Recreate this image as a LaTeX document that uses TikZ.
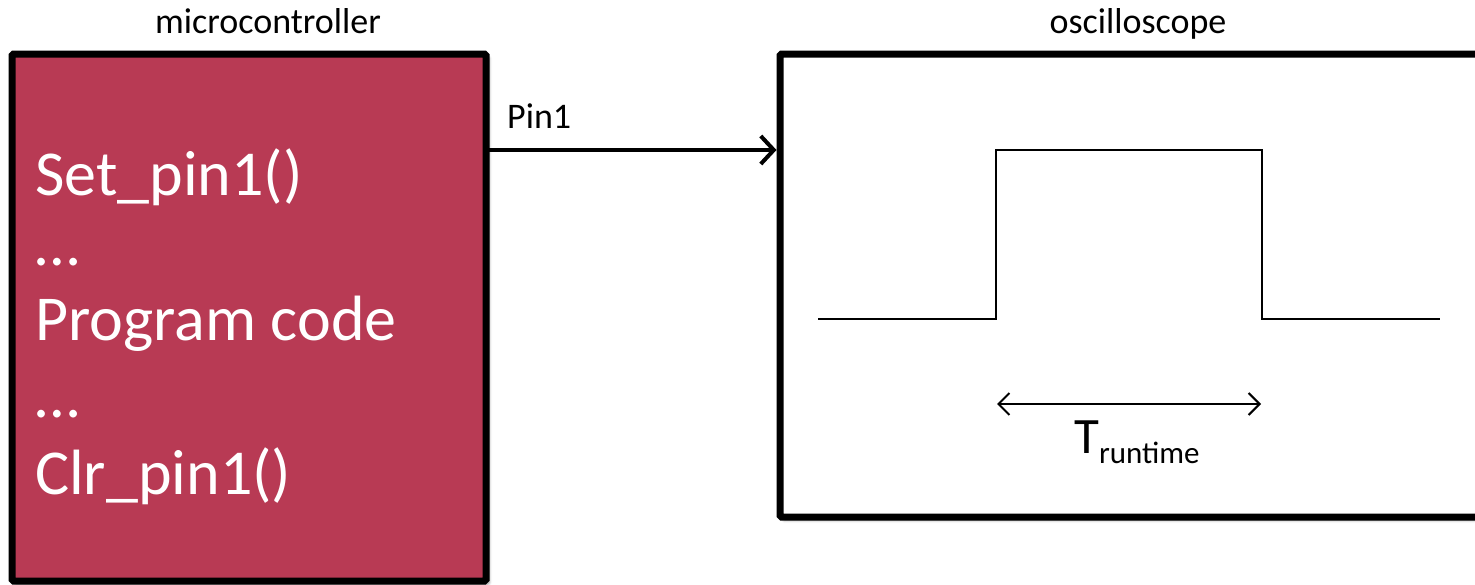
\documentclass[tikz,border=0pt]{standalone}
\usepackage{fontspec}
\setmainfont{Carlito}
\usetikzlibrary{arrows.meta,shadows.blur}
\definecolor{mcred}{RGB}{184,58,84}
\tikzset{
  boxframe/.style={draw=black, line width=7pt, inner sep=0pt, outer sep=0pt, rounded corners=1.5pt,
    blur shadow={shadow xshift=3pt, shadow yshift=-3pt, shadow blur radius=3pt, shadow opacity=45}},
  bigtxt/.style={anchor=base west, inner sep=0pt, text=white, font=\fontsize{64}{64}\selectfont},
  smalltxt/.style={inner sep=0pt, font=\fontsize{36}{36}\selectfont},
  wave/.style={line width=2pt, line join=miter},
  mainarrow/.style={line width=4pt, -{Straight Barb[length=13pt,width=28pt,line width=4pt]}},
  dimarrow/.style={line width=2pt, {Straight Barb[length=11pt,width=22pt,line width=2pt]}-{Straight Barb[length=11pt,width=22pt,line width=2pt]}}
}
\begin{document}
\begin{tikzpicture}[x=1pt,y=-1pt]
\useasboundingbox (0,0) rectangle (1475,584);
% boxes
\node[boxframe, fill=mcred, minimum width=474pt, minimum height=527pt] (mc) at (249,317.5) {};
\node[boxframe, fill=white, minimum width=740pt, minimum height=463pt] (osc) at (1150,285.5) {};
% titles
\node[smalltxt, anchor=base] (mctitle) at (268,33) {microcontroller};
\node[smalltxt, anchor=base] (osctitle) at (1138,33) {oscilloscope};
% code lines
\node[bigtxt] (l1) at (35,195) {Set\_pin1()};
\node[bigtxt] (l2) at (35,265) {…};
\node[bigtxt] (l3) at (35,340) {Program code};
\node[bigtxt] (l4) at (35,417) {…};
\node[bigtxt] (l5) at (35,494) {Clr\_pin1()};
% pin arrow
\coordinate (pinlevel) at (0,150);
\node[smalltxt, anchor=base west] (pin) at (507,128) {Pin1};
\draw[mainarrow, shorten >=3.5pt] (mc.east |- pinlevel) -- (osc.west |- pinlevel);
% waveform
\coordinate (w0) at (818,319);
\coordinate (w1) at (996,319);
\coordinate (w2) at (996,150);
\coordinate (w3) at (1262,150);
\coordinate (w4) at (1262,319);
\coordinate (w5) at (1440,319);
\draw[wave] (w0) -- (w1) -- (w2) -- (w3) -- (w4) -- (w5);
% runtime dimension
\coordinate (d0) at (997,404);
\coordinate (d1) at (1261,404);
\draw[dimarrow] (d0) -- (d1);
\node[anchor=base west, inner sep=0pt] (trun) at (1074,453)
  {{\fontsize{51}{51}\selectfont T}{\fontsize{31}{31}\selectfont\raisebox{-10pt}{runtime}}};
\end{tikzpicture}
\end{document}
